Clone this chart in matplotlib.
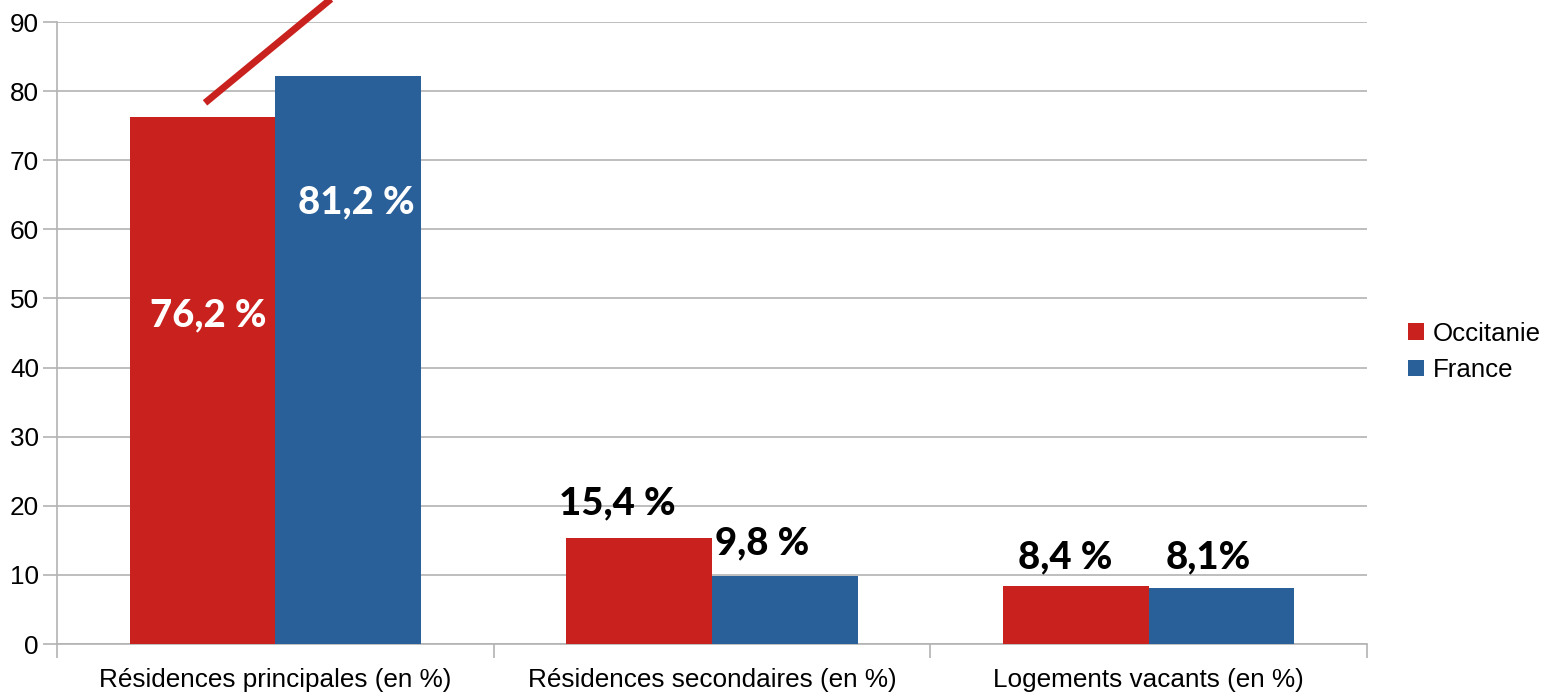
import matplotlib
matplotlib.use("Agg")
import matplotlib.pyplot as plt
import numpy as np

categories = ["Résidences principales (en %)", "Résidences secondaires (en %)", "Logements vacants (en %)"]
occitanie = [76.2, 15.4, 8.4]
france = [82.2, 9.8, 8.1]
occ_labels = ["76,2 %", "15,4 %", "8,4 %"]
fra_labels = ["81,2 %", "9,8 %", "8,1%"]
yticks = [0, 10, 20, 30, 40, 50, 60, 70, 80, 90]

RED = "#c9211e"
BLUE = "#2a6099"
GRID = "#b3b3b3"

fig = plt.figure(figsize=(15.45, 6.92), dpi=100)
ax = fig.add_axes([57/1545, 48/692, 1310/1545, 622/692])

x = np.arange(len(categories))
w = 1/3
ax.bar(x - w/2, occitanie, w, color=RED, label="Occitanie", zorder=3)
ax.bar(x + w/2, france, w, color=BLUE, label="France", zorder=3)

ax.set_xlim(-0.5, 2.5)
ax.set_ylim(0, 90)
ax.set_yticks(yticks)
ax.yaxis.grid(True, color=GRID, linewidth=1.2, zorder=0)
ax.set_axisbelow(True)
for s in ["top", "right"]:
    ax.spines[s].set_visible(False)
ax.spines["left"].set_color(GRID)
ax.spines["bottom"].set_color(GRID)
ax.spines["left"].set_linewidth(1.2)
ax.spines["bottom"].set_linewidth(1.2)

ax.set_xticks(x)
ax.set_xticklabels(categories, fontsize=18.8, family="Liberation Sans")
ax.tick_params(axis="x", length=0, pad=17)
ax.set_xticks([-0.5, 0.5, 1.5, 2.5], minor=True)
ax.tick_params(axis="x", which="minor", length=10, color=GRID, width=1.2)
ax.tick_params(axis="y", length=10, color=GRID, width=1.2, labelsize=18.8, pad=3)
for t in ax.get_yticklabels():
    t.set_family("Liberation Sans")

# data labels
lab_font = dict(family="Lato", weight="black", fontsize=27.5, ha="center", va="center")
occ_pos = [(x[0] - w/2 + 0.013, 47.6), (x[1] - w/2 - 0.051, 20.4), (x[2] - w/2 - 0.025, 12.6)]
fra_pos = [(x[0] + w/2 + 0.018, 63.9), (x[1] + w/2 - 0.053, 14.6), (x[2] + w/2 - 0.031, 12.6)]
for i, ((px, py), t) in enumerate(zip(occ_pos, occ_labels)):
    c = "white" if py < occitanie[i] else "black"
    ax.text(px, py, t, color=c, zorder=5, **lab_font)
for i, ((px, py), t) in enumerate(zip(fra_pos, fra_labels)):
    c = "white" if py < france[i] else "black"
    ax.text(px, py, t, color=c, zorder=5, **lab_font)

# red annotation line
ax.plot([-0.161, 0.171], [78.3, 95.6], color=RED, linewidth=5, clip_on=False, zorder=6,
        solid_capstyle="butt")

leg = fig.legend(loc="center left", bbox_to_anchor=(1385/1545, 1 - 352/692), frameon=False,
                 prop={"family": "Liberation Sans", "size": 18.6}, handlelength=0.6, handleheight=0.6,
                 handletextpad=0.35, labelspacing=0.48)

fig.savefig("out.png", dpi=100)
